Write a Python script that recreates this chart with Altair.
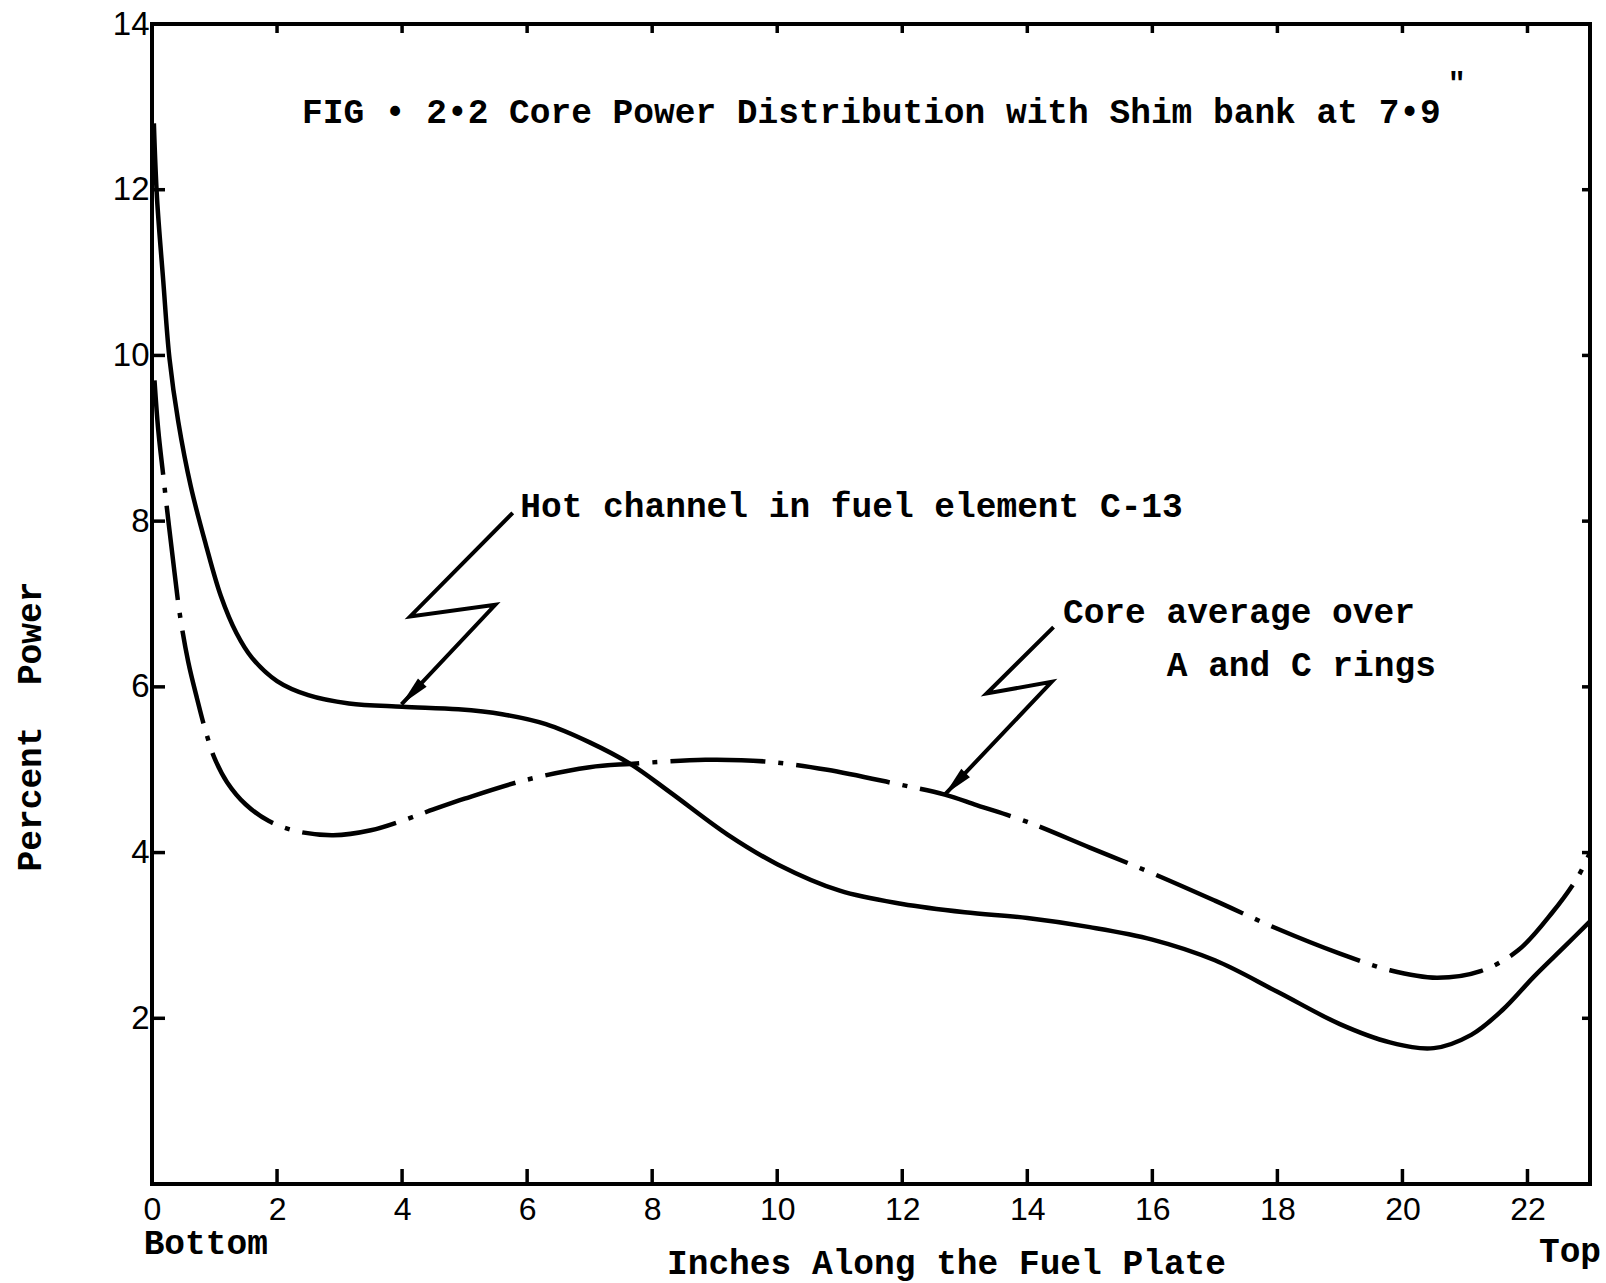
import altair as alt
import pandas as pd

# ---- data ----
hot_x = [0.03, 0.08, 0.18, 0.28, 0.42, 0.62, 0.86, 1.1, 1.35, 1.6, 2.0, 2.5, 3.15, 4.0, 4.9, 5.6,
         6.3, 7.0, 7.65, 8.3, 9.2, 10.0, 11.0, 12.0, 13.0, 14.0, 15.0, 16.0, 17.0, 18.0, 19.0,
         19.8, 20.5, 21.1, 21.6, 22.1, 22.6, 23.0]
hot_y = [12.8, 11.9, 10.9, 9.96, 9.2, 8.42, 7.72, 7.1, 6.65, 6.35, 6.07, 5.9, 5.8, 5.76, 5.73, 5.67,
         5.55, 5.33, 5.07, 4.72, 4.22, 3.86, 3.54, 3.38, 3.28, 3.21, 3.10, 2.95, 2.70, 2.32, 1.93,
         1.71, 1.64, 1.80, 2.1, 2.5, 2.87, 3.17]

core_x = [0.04, 0.1, 0.18, 0.27, 0.36, 0.45, 0.58, 0.72, 0.86, 1.0, 1.2, 1.5, 1.87, 2.3, 2.9, 3.5,
          4.06, 4.5, 5.0, 6.0, 7.0, 7.65, 8.85, 9.8, 10.8, 11.9, 12.68, 13.2, 14.0, 15.0, 16.0,
          17.0, 18.0, 19.0, 19.8, 20.55, 21.25, 21.85, 22.4, 22.8, 23.0]
core_y = [9.7, 9.1, 8.55, 7.95, 7.38, 6.85, 6.3, 5.86, 5.46, 5.14, 4.85, 4.58, 4.38, 4.26, 4.21, 4.27,
          4.40, 4.52, 4.65, 4.88, 5.03, 5.07, 5.12, 5.10, 5.0, 4.83, 4.70, 4.57, 4.37, 4.06, 3.75,
          3.42, 3.08, 2.78, 2.58, 2.49, 2.57, 2.82, 3.28, 3.7, 4.0]

x_tick_values = [0, 2, 4, 6, 8, 10, 12, 14, 16, 18, 20, 22]
y_tick_values = [2, 4, 6, 8, 10, 12, 14]
inner_x_ticks = [2, 4, 6, 8, 10, 12, 14, 16, 18, 20, 22]
inner_y_ticks = [2, 4, 6, 8, 10, 12]

# annotation anchor points (data coordinates)
hot_arrow_x = [5.77, 4.13, 5.49, 3.99]
hot_arrow_y = [8.10, 6.85, 6.99, 5.79]
core_arrow_x = [14.42, 13.35, 14.39, 12.68]
core_arrow_y = [6.72, 5.92, 6.06, 4.70]

title_text = "FIG \u2022 2\u20222 Core Power Distribution with Shim bank at 7\u20229"
inner_labels = ["Hot channel in fuel element C-13", "Core average over", "A and C rings"]
inner_labels_x = [5.89, 14.57, 16.23]
inner_labels_y = [8.17, 6.89, 6.25]

FONT = "Liberation Mono"
NUM_FONT = "Liberation Sans Narrow, Liberation Sans"
TXT_SIZE = 34.5

xs = alt.Scale(domain=[0, 23], nice=False, zero=False)
ys = alt.Scale(domain=[0, 14], nice=False, zero=False)

x_axis = alt.Axis(values=x_tick_values, ticks=False, domain=False, grid=False,
                  labelFont=NUM_FONT, labelFontSize=32, labelPadding=25, labelBaseline="middle",
                  labelColor="black", labelFlush=False, labelOverlap=False,
                  title="Inches Along the Fuel Plate", titleFont=FONT, titleFontSize=TXT_SIZE,
                  titleFontWeight="bold", titleColor="black", titleX=794, titleY=79,
                  titleBaseline="middle", titleAlign="center")
y_axis = alt.Axis(values=y_tick_values, ticks=False, domain=False, grid=False,
                  labelFont=NUM_FONT, labelFontSize=33, labelPadding=3, labelBaseline="middle",
                  labelColor="black", labelFlush=False, labelOverlap=False,
                  title="Percent\u00a0\u00a0Power", titleFont=FONT, titleFontSize=TXT_SIZE,
                  titleFontWeight="bold", titleColor="black", titleX=-122, titleY=702,
                  titleAngle=270, titleBaseline="middle", titleAlign="center")


def xq():
    return alt.X("x:Q", scale=xs, axis=x_axis)


def yq():
    return alt.Y("y:Q", scale=ys, axis=y_axis)


hot_df = pd.DataFrame({"x": hot_x, "y": hot_y})
core_df = pd.DataFrame({"x": core_x, "y": core_y})

hot = alt.Chart(hot_df).mark_line(color="black", strokeWidth=4.5, interpolate="catmull-rom").encode(
    x=xq(), y=yq())

core = alt.Chart(core_df).mark_line(color="black", strokeWidth=4.5, interpolate="catmull-rom",
                                    strokeDash=[95, 13, 5, 13]).encode(x=xq(), y=yq())

left_ticks = alt.Chart(pd.DataFrame({"x": [0] * len(inner_y_ticks), "y": inner_y_ticks})).mark_tick(
    orient="horizontal", size=26, thickness=3.5, color="black", clip=True, opacity=1).encode(x=xq(), y=yq())
right_ticks = alt.Chart(pd.DataFrame({"x": [23] * len(inner_y_ticks), "y": inner_y_ticks})).mark_tick(
    orient="horizontal", size=16, thickness=3.5, color="black", clip=True, opacity=1).encode(x=xq(), y=yq())
bottom_ticks = alt.Chart(pd.DataFrame({"x": inner_x_ticks, "y": [0] * len(inner_x_ticks)})).mark_tick(
    orient="vertical", size=30, thickness=3.5, color="black", clip=True, opacity=1).encode(x=xq(), y=yq())
top_ticks = alt.Chart(pd.DataFrame({"x": inner_x_ticks, "y": [14] * len(inner_x_ticks)})).mark_tick(
    orient="vertical", size=18, thickness=3.5, color="black", clip=True, opacity=1).encode(x=xq(), y=yq())

hot_arrow_df = pd.DataFrame({"x": hot_arrow_x, "y": hot_arrow_y, "o": list(range(len(hot_arrow_x)))})
core_arrow_df = pd.DataFrame({"x": core_arrow_x, "y": core_arrow_y, "o": list(range(len(core_arrow_x)))})

hot_arrow = alt.Chart(hot_arrow_df).mark_line(color="black", strokeWidth=4).encode(
    x=xq(), y=yq(), order="o:O")
core_arrow = alt.Chart(core_arrow_df).mark_line(color="black", strokeWidth=4).encode(
    x=xq(), y=yq(), order="o:O")

head_df = pd.DataFrame({"x": [hot_arrow_x[-1], core_arrow_x[-1]], "y": [hot_arrow_y[-1], core_arrow_y[-1]]})
heads = alt.Chart(head_df).mark_point(shape="M0,0L0.4,2L-0.4,2Z", filled=True, size=900,
                                      angle=224, color="black", opacity=1, strokeWidth=0).encode(x=xq(), y=yq())

labels_df = pd.DataFrame({"x": inner_labels_x, "y": inner_labels_y, "t": inner_labels})
labels = alt.Chart(labels_df).mark_text(align="left", baseline="middle", font=FONT, fontSize=TXT_SIZE,
                                        fontWeight="bold", color="black").encode(x=xq(), y=yq(), text="t:N")

title_df = pd.DataFrame({"x": [2.40], "y": [12.93], "t": [title_text]})
title = alt.Chart(title_df).mark_text(align="left", baseline="middle", font=FONT, fontSize=TXT_SIZE,
                                      fontWeight="bold", color="black").encode(x=xq(), y=yq(), text="t:N")
inch_df = pd.DataFrame({"x": [20.87], "y": [13.27], "t": ['"']})
inch = alt.Chart(inch_df).mark_text(align="center", baseline="middle", font=FONT, fontSize=30,
                                    fontWeight="bold", color="black").encode(x=xq(), y=yq(), text="t:N")

ends_df = pd.DataFrame({"x": [0.86, 22.68], "y": [-0.73, -0.82], "t": ["Bottom", "Top"]})
ends = alt.Chart(ends_df).mark_text(align="center", baseline="middle", font=FONT, fontSize=TXT_SIZE,
                                    fontWeight="bold", color="black").encode(x=xq(), y=yq(), text="t:N")

chart = alt.layer(
    hot, core, left_ticks, right_ticks, bottom_ticks, top_ticks,
    hot_arrow, core_arrow, heads, labels, title, inch, ends
).properties(
    width=1438, height=1160,
    autosize=alt.AutoSizeParams(type="none"),
    padding={"left": 152, "top": 24, "right": 16, "bottom": 99},
    background="white",
).configure_view(stroke="black", strokeWidth=4)

chart.save("out.html", embed_options={"renderer": "svg", "actions": False})
